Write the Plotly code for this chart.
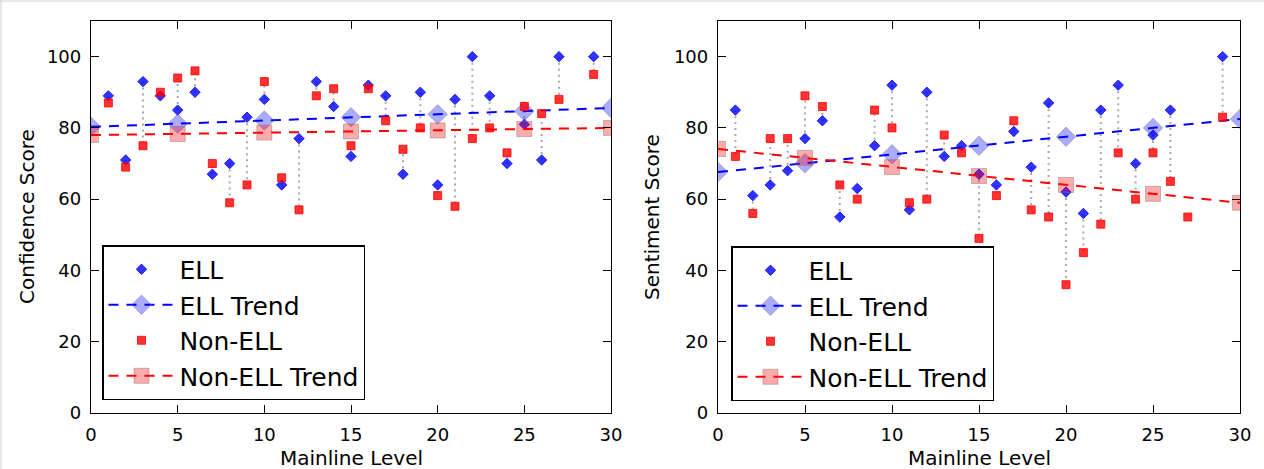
import plotly.graph_objects as go

# ---------------- data ----------------
levels = [1, 2, 3, 4, 5, 6, 7, 8, 9, 10, 11, 12, 13, 14, 15, 16, 17, 18, 19, 20,
          21, 22, 23, 24, 25, 26, 27, 29]

conf_ell = [89, 71, 93, 89, 85, 90, 67, 70, 83, 88, 64, 77, 93, 86, 72, 92, 89, 67, 90, 64,
            88, 100, 89, 70, 81, 71, 100, 100]
conf_non = [87, 69, 75, 90, 94, 96, 70, 59, 64, 93, 66, 57, 89, 91, 75, 91, 82, 74, 80, 61,
            58, 77, 80, 73, 86, 84, 88, 95]

sent_ell = [85, 61, 64, 68, 77, 82, 55, 63, 75, 92, 57, 90, 72, 75, 67, 64, 79, 69, 87, 62,
            56, 85, 92, 70, 78, 85, None, 100]
sent_non = [72, 56, 77, 77, 89, 86, 64, 60, 85, 80, 59, 60, 78, 73, 49, 61, 82, 57, 55, 36,
            45, 53, 73, 60, 73, 65, 55, 83]

trend_x = [0, 5, 10, 15, 20, 25, 30]
conf_ell_trend = [80.3, 81.2, 82.1, 83.0, 83.8, 84.7, 85.6]
conf_non_trend = [78.0, 78.3, 78.7, 79.0, 79.3, 79.7, 80.0]
sent_ell_trend = [67.6, 70.1, 72.6, 75.0, 77.5, 80.0, 82.5]
sent_non_trend = [74.1, 71.6, 69.0, 66.5, 64.0, 61.5, 59.0]

x_ticks = [0, 5, 10, 15, 20, 25, 30]
y_ticks = [0, 20, 40, 60, 80, 100]

W, H = 1264, 469
FONT = "DejaVu Sans"

fig = go.Figure()


def add_panel(xa, ya, leg, ell, non, ell_tr, non_tr):
    # dotted connectors between paired values
    cx, cy = [], []
    for x, a, b in zip(levels, ell, non):
        if a is None or b is None:
            continue
        cx += [x, x, None]
        cy += [a, b, None]
    fig.add_trace(go.Scatter(x=cx, y=cy, mode="lines", xaxis=xa, yaxis=ya,
                             line=dict(color="rgba(170,170,170,1)", width=2, dash="2px,4px"),
                             showlegend=False, hoverinfo="skip"))
    fig.add_trace(go.Scatter(x=levels, y=ell, mode="markers", name="ELL", xaxis=xa, yaxis=ya,
                             legend=leg,
                             marker=dict(symbol="diamond", size=8, color="rgba(0,0,255,0.8)",
                                         line=dict(color="rgba(0,0,255,0.8)", width=1))))
    fig.add_trace(go.Scatter(x=trend_x, y=ell_tr, mode="lines+markers", name="ELL Trend",
                             xaxis=xa, yaxis=ya, legend=leg,
                             line=dict(color="rgb(0,0,255)", width=2, dash="10px,8px"),
                             marker=dict(symbol="diamond", size=15, color="rgba(0,0,255,0.33)",
                                         line=dict(color="rgba(120,120,120,0.45)", width=1))))
    fig.add_trace(go.Scatter(x=levels, y=non, mode="markers", name="Non-ELL", xaxis=xa, yaxis=ya,
                             legend=leg,
                             marker=dict(symbol="square", size=8, color="rgba(255,0,0,0.8)",
                                         line=dict(color="rgba(255,0,0,0.8)", width=1))))
    fig.add_trace(go.Scatter(x=trend_x, y=non_tr, mode="lines+markers", name="Non-ELL Trend",
                             xaxis=xa, yaxis=ya, legend=leg,
                             line=dict(color="rgb(255,0,0)", width=2, dash="10px,8px"),
                             marker=dict(symbol="square", size=15, color="rgba(255,0,0,0.33)",
                                         line=dict(color="rgba(120,120,120,0.45)", width=1))))


add_panel("x", "y", "legend", conf_ell, conf_non, conf_ell_trend, conf_non_trend)
add_panel("x2", "y2", "legend2", sent_ell, sent_non, sent_ell_trend, sent_non_trend)

axis_common = dict(showgrid=False, zeroline=False, showline=True, linecolor="black",
                   linewidth=1.3, mirror="ticks", ticks="inside", ticklen=8, tickwidth=1,
                   tickcolor="black", tickfont=dict(family=FONT, size=18, color="black"),
                   ticklabelstandoff=5, automargin=False)

ydom = [1 - 413 / H, 1 - 21 / H]
title_font = dict(family=FONT, size=20, color="black")
legend_common = dict(xanchor="left", yanchor="top", bgcolor="white", bordercolor="black",
                     borderwidth=1.5, font=dict(family=FONT, size=25, color="black"),
                     itemwidth=66)
fig.update_layout(
    width=W, height=H,
    margin=dict(l=0, r=0, t=0, b=0, pad=0),
    paper_bgcolor="white", plot_bgcolor="white",
    xaxis=dict(domain=[91 / W, 611 / W], range=[0, 30], tickvals=x_ticks, anchor="y", **axis_common),
    yaxis=dict(domain=ydom, range=[0, 110], tickvals=y_ticks, anchor="x", **axis_common),
    xaxis2=dict(domain=[718 / W, 1240 / W], range=[0, 30], tickvals=x_ticks, anchor="y2", **axis_common),
    yaxis2=dict(domain=ydom, range=[0, 110], tickvals=y_ticks, anchor="x2", **axis_common),
    legend=dict(x=102 / W, y=1 - 245 / H, **legend_common),
    legend2=dict(x=731 / W, y=1 - 246 / H, **legend_common),
    annotations=[
        dict(text="Mainline Level", x=351 / W, y=1 - 458 / H, xref="paper", yref="paper",
             xanchor="center", yanchor="middle", showarrow=False, font=title_font),
        dict(text="Mainline Level", x=979 / W, y=1 - 458 / H, xref="paper", yref="paper",
             xanchor="center", yanchor="middle", showarrow=False, font=title_font),
        dict(text="Confidence Score", x=27 / W, y=1 - 217 / H, xref="paper", yref="paper",
             xanchor="center", yanchor="middle", showarrow=False, textangle=-90, font=title_font),
        dict(text="Sentiment Score", x=652 / W, y=1 - 217 / H, xref="paper", yref="paper",
             xanchor="center", yanchor="middle", showarrow=False, textangle=-90, font=title_font),
    ],
    shapes=[
        dict(type="line", xref="paper", yref="paper", x0=0, x1=1, y0=1 - 1 / H, y1=1 - 1 / H,
             line=dict(color="#d0d0d0", width=1)),
        dict(type="line", xref="paper", yref="paper", x0=1 / W, x1=1 / W, y0=0, y1=1,
             line=dict(color="#d0d0d0", width=1)),
    ],
)

fig.write_html("out.html")
